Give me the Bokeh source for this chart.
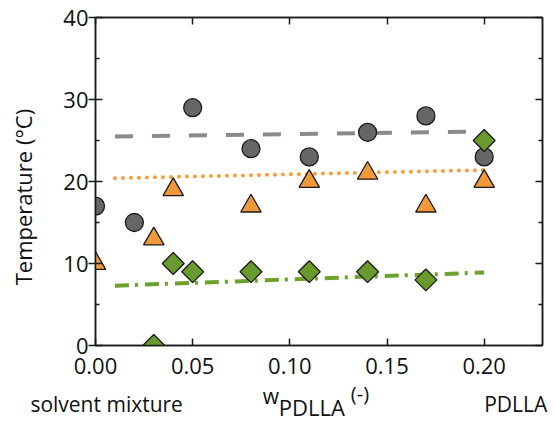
import math
from bokeh.plotting import figure
from bokeh.models import Range1d, LinearAxis, FixedTicker, NumeralTickFormatter, CustomJSTickFormatter
from bokeh.core.properties import value
from bokeh.embed import file_html
from bokeh.resources import INLINE

# ---- data ----
x_circle = [0.00, 0.02, 0.05, 0.08, 0.11, 0.14, 0.17, 0.20]
y_circle = [17, 15, 29, 24, 23, 26, 28, 23]
x_tri = [0.00, 0.03, 0.04, 0.08, 0.11, 0.14, 0.17, 0.20]
y_tri = [10, 13, 19, 17, 20, 21, 17, 20]
x_dia = [0.03, 0.04, 0.05, 0.08, 0.11, 0.14, 0.17, 0.20]
y_dia = [0, 10, 9, 9, 9, 9, 8, 25]
fit_x = [0.01, 0.20]
fit_circle = [25.5, 26.1]
fit_tri = [20.4, 21.4]
fit_dia = [7.3, 8.9]
x_ticks = [0.00, 0.05, 0.10, 0.15, 0.20]
y_ticks = [0, 10, 20, 30, 40]
y_minor = [5, 15, 25, 35]

FONT = "Open Sans"
AX = "#1a1a1a"

p = figure(width=555, height=423, x_range=Range1d(0, 0.23), y_range=Range1d(0, 40),
           output_backend="svg", toolbar_location=None,
           min_border_left=95, min_border_right=13, min_border_top=17, min_border_bottom=78)
p.xgrid.grid_line_color = None
p.ygrid.grid_line_color = None
p.outline_line_color = AX
p.outline_line_width = 1.5
p.background_fill_color = "white"
p.border_fill_color = "white"

# bottom axis
xa = p.xaxis[0]
xa.ticker = FixedTicker(ticks=x_ticks)
xa.formatter = NumeralTickFormatter(format="0.00")
xa.major_tick_in = 7
xa.major_tick_out = 0
xa.minor_tick_line_color = None
xa.axis_line_color = AX
xa.axis_line_width = 1.5
xa.major_tick_line_color = AX
xa.major_tick_line_width = 1.5
xa.major_label_text_font = FONT
xa.major_label_text_font_size = "22px"
xa.major_label_text_color = "#111111"
xa.major_label_standoff = 12

# left axis
ya = p.yaxis[0]
ya.ticker = FixedTicker(ticks=y_ticks, minor_ticks=y_minor)
ya.major_tick_in = 7
ya.major_tick_out = 7
ya.minor_tick_in = 4
ya.minor_tick_out = 0
ya.axis_line_color = AX
ya.axis_line_width = 1.5
ya.major_tick_line_color = AX
ya.major_tick_line_width = 1.5
ya.minor_tick_line_color = AX
ya.minor_tick_line_width = 1.5
ya.major_label_text_font = FONT
ya.major_label_text_font_size = "22px"
ya.major_label_text_color = "#111111"
ya.major_label_standoff = 0

blank = CustomJSTickFormatter(code="return ''")

# top / right axes (ticks only)
top = LinearAxis(ticker=FixedTicker(ticks=x_ticks), formatter=blank)
top.major_tick_in = 7
top.major_tick_out = 0
top.minor_tick_line_color = None
top.major_label_text_font_size = "1px"
top.major_label_standoff = 0
top.axis_line_color = AX
top.axis_line_width = 1.5
top.major_tick_line_color = AX
top.major_tick_line_width = 1.5
p.add_layout(top, "above")

right = LinearAxis(ticker=FixedTicker(ticks=y_ticks, minor_ticks=y_minor), formatter=blank)
right.major_tick_in = 7
right.major_tick_out = 0
right.minor_tick_in = 4
right.minor_tick_out = 0
right.major_label_text_font_size = "1px"
right.major_label_standoff = 0
right.axis_line_color = AX
right.axis_line_width = 1.5
right.major_tick_line_color = AX
right.major_tick_line_width = 1.5
right.minor_tick_line_color = AX
right.minor_tick_line_width = 1.5
p.add_layout(right, "right")

# fit lines
p.line(fit_x, fit_circle, line_color="#8a8a8a", line_width=4, line_dash="18 19")
p.line(fit_x, fit_tri, line_color="#FF9A3A", line_width=4, line_dash="0 8", line_cap="round")
p.line(fit_x, fit_dia, line_color="#6FA12E", line_width=4, line_dash="14 6 3 7")

# markers
p.scatter(x_circle, y_circle, marker="circle", size=18, fill_color="#666666",
          line_color="#1a1a1a", line_width=1.3)
p.scatter(x_tri, y_tri, marker="triangle", size=20.5, fill_color="#F0993B",
          line_color="#1a1a1a", line_width=1.3)
p.scatter(x_dia, y_dia, marker="square", size=15.5, angle=math.pi / 4,
          fill_color="#6A9A2B", line_color="#1a1a1a", line_width=1.3)

# texts outside the frame (overlay level, data units)
def txt(x, y, t, size, align="left", angle=0.0):
    p.text(x=[x], y=[y], text=[t], text_font=value(FONT), text_font_size=value(size),
           text_color="#111111", text_baseline="alphabetic", text_align=align,
           angle=angle, level="overlay")

txt(-0.0371, 18.1, "Temperature (°C)", "22px", align="center", angle=math.pi / 2)
txt(-0.0335, -7.19, "solvent mixture", "21px")
txt(0.0861, -6.1, "w", "21px")
txt(0.0943, -7.44, "PDLLA", "22px")
txt(0.1314, -5.8, "(-)", "20px")
txt(0.2, -7.19, "PDLLA", "21px")

open("out.html", "w").write(file_html(p, INLINE))
